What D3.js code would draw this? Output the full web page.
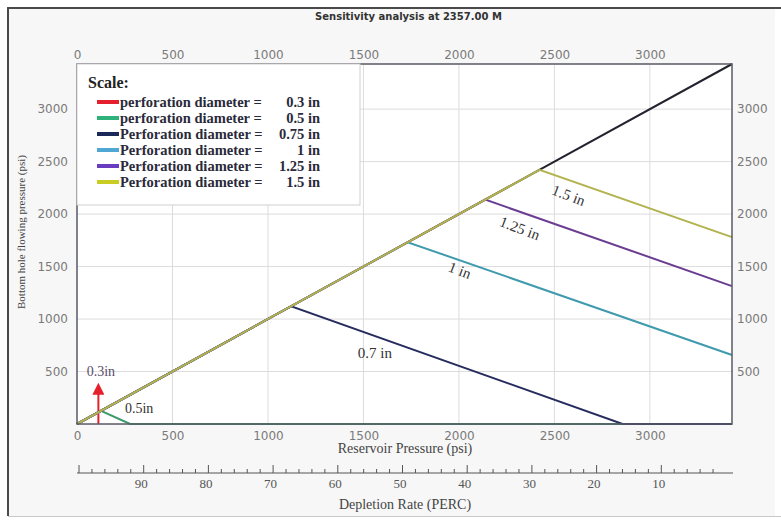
<!DOCTYPE html>
<html><head><meta charset="utf-8">
<script src="https://cdn.jsdelivr.net/npm/d3@7"></script>
<style>body{margin:0;background:#fff}svg{display:block}</style>
</head><body><svg id="c" width="781" height="521"></svg>
<script>
// ---- data ----
const title = "Sensitivity analysis at 2357.00 M";
const pressureTicks = [0, 500, 1000, 1500, 2000, 2500, 3000];
const bhpTicks = [500, 1000, 1500, 2000, 2500, 3000];
const depletionTicks = [90, 80, 70, 60, 50, 40, 30, 20, 10];
const legendNames = ["perforation diameter =", "perforation diameter =", "Perforation diameter =", "Perforation diameter =", "Perforation diameter =", "Perforation diameter ="];
const legendValues = ["0.3 in", "0.5 in", "0.75 in", "1 in", "1.25 in", "1.5 in"];
const legendColors = ["#e3202b", "#2fb27a", "#1b2858", "#4fa8d4", "#6a3cc0", "#c9cc22"];
const lineColors = ["#e3202b", "#3a9a6a", "#262c5e", "#3f9aae", "#6b3d92", "#b2b24e"];
// reference line: reservoir pressure = bottom hole pressure
const diagonal = [[0, 0], [3430, 3430]];
const s03 = [[112, 0], [112, 290]];
const s05 = [[0, 0], [126, 126], [278, 0], [3430, 0]];
const s075 = [[0, 0], [1122, 1122], [2857, 0], [3430, 0]];
const s10 = [[0, 0], [1732, 1732], [3430, 657]];
const s125 = [[0, 0], [2138, 2138], [3430, 1314]];
const s15 = [[0, 0], [2422, 2422], [3430, 1781]];
const seriesList = [s03, s05, s075, s10, s125, s15];
const lineLabels = ["0.3in", "0.5in", "0.7 in", "1 in", "1.25 in", "1.5 in"];
const labelAt = [[125, 455], [325, 105], [1560, 629], [1995, 1419], [2309, 1819], [2565, 2133]];
const labelAngle = [0, 0, 0, 21, 21, 21];

// ---- layout ----
const svg = d3.select("#c");
const L = 77, R = 732, T = 64, B = 424;
const x = d3.scaleLinear().domain([0, 3430]).range([L, R]);
const y = d3.scaleLinear().domain([0, 3430]).range([B, T]);
const dep = d3.scaleLinear().domain([100, 0]).range([L + 2, L + 2 + 647]);

// outer frame
svg.append("rect").attr("x", 8).attr("y", 8).attr("width", 767).attr("height", 508).attr("fill", "#f7f7f7");
svg.append("line").attr("x1", 8).attr("x2", 8).attr("y1", 7).attr("y2", 516).attr("stroke", "#4a4a4a").attr("stroke-width", 2);
svg.append("line").attr("x1", 7).attr("x2", 781).attr("y1", 8).attr("y2", 8).attr("stroke", "#4a4a4a").attr("stroke-width", 2);
svg.append("line").attr("x1", 8).attr("x2", 781).attr("y1", 516.5).attr("y2", 516.5).attr("stroke", "#c8c8c8").attr("stroke-width", 1);

svg.append("text").attr("x", (L + R) / 2 + 4).attr("y", 20).attr("text-anchor", "middle")
  .attr("font-family", "DejaVu Sans").attr("font-weight", "bold").attr("font-size", 10).attr("fill", "#333").text(title);

// plot bg
svg.append("rect").attr("x", L).attr("y", T).attr("width", R - L).attr("height", B - T).attr("fill", "#fff");

// grid
const g = svg.append("g");
g.selectAll(".vg").data(pressureTicks.filter(d => d > 0)).join("line")
  .attr("x1", d => x(d)).attr("x2", d => x(d)).attr("y1", T).attr("y2", B).attr("stroke", "#dcdcdc");
g.selectAll(".hg").data(bhpTicks).join("line")
  .attr("y1", d => y(d)).attr("y2", d => y(d)).attr("x1", L).attr("x2", R).attr("stroke", "#dcdcdc");

// axes (labels only)
const fmt = d3.format("d");
const tickFont = sel => sel.call(s => s.select(".domain").remove())
  .selectAll("text").attr("font-family", "DejaVu Sans").attr("font-size", 12).attr("fill", "#7a7a7a");
svg.append("g").attr("transform", `translate(0,${T - 5})`).call(d3.axisTop(x).tickValues(pressureTicks).tickFormat(fmt).tickSize(0).tickPadding(0)).call(tickFont);
svg.append("g").attr("transform", `translate(0,${B + 4})`).call(d3.axisBottom(x).tickValues(pressureTicks).tickFormat(fmt).tickSize(0).tickPadding(3)).call(tickFont);
svg.append("g").attr("transform", `translate(${L - 9},0)`).call(d3.axisLeft(y).tickValues(bhpTicks).tickFormat(fmt).tickSize(0).tickPadding(0)).call(tickFont);
svg.append("g").attr("transform", `translate(${R + 5},0)`).call(d3.axisRight(y).tickValues(bhpTicks).tickFormat(fmt).tickSize(0).tickPadding(0)).call(tickFont);

// series
const line = d3.line().x(d => x(d[0])).y(d => y(d[1]));
const defs = svg.append("defs");
defs.append("marker").attr("id", "arr").attr("viewBox", "0 0 10 10").attr("refX", 1).attr("refY", 5)
  .attr("markerWidth", 6).attr("markerHeight", 6).attr("orient", "auto").attr("markerUnits", "strokeWidth")
  .append("path").attr("d", "M0,0L10,5L0,10Z").attr("fill", lineColors[0]);

svg.append("path").attr("d", line(diagonal)).attr("fill", "none").attr("stroke", "#23232f").attr("stroke-width", 2);
seriesList.forEach((s, i) => {
  const p = svg.append("path").attr("d", line(s)).attr("fill", "none").attr("stroke", lineColors[i]).attr("stroke-width", 2);
  if (i === 0) p.attr("marker-end", "url(#arr)");
});

// plot border
svg.append("rect").attr("x", L).attr("y", T).attr("width", R - L).attr("height", B - T).attr("fill", "none").attr("stroke", "#5a5a66").attr("stroke-width", 1.5);

// line labels
svg.selectAll(".ll").data(lineLabels).join("text")
  .attr("transform", (d, i) => `translate(${x(labelAt[i][0])},${y(labelAt[i][1])}) rotate(${labelAngle[i]})`)
  .attr("text-anchor", "middle").attr("font-family", "Liberation Serif")
  .attr("font-size", (d, i) => i < 2 ? 14 : 15).attr("fill", (d, i) => i === 0 ? "#5a4e6a" : "#333").text(d => d);

// legend
const lg = svg.append("g");
lg.append("rect").attr("x", L).attr("y", T).attr("width", 283).attr("height", 141).attr("fill", "#fff").attr("stroke", "#cfcfcf");
lg.append("text").attr("x", 88).attr("y", 88).attr("font-family", "Liberation Serif").attr("font-weight", "bold").attr("font-size", 16).attr("fill", "#222").text("Scale:");
legendNames.forEach((n, i) => {
  const yy = 102 + i * 16;
  lg.append("line").attr("x1", 97).attr("x2", 119).attr("y1", yy).attr("y2", yy).attr("stroke", legendColors[i]).attr("stroke-width", 4);
  lg.append("text").attr("x", 120).attr("y", yy + 4.5).attr("font-family", "Liberation Serif").attr("font-weight", "bold").attr("font-size", 14.5).attr("fill", "#2a2a3a").text(n);
  lg.append("text").attr("x", 320).attr("y", yy + 4.5).attr("text-anchor", "end").attr("font-family", "Liberation Serif").attr("font-weight", "bold").attr("font-size", 14.5).attr("fill", "#2a2a3a").text(legendValues[i]);
});

// axis titles
svg.append("text").attr("x", 405).attr("y", 453).attr("text-anchor", "middle").attr("font-family", "Liberation Serif").attr("font-size", 14).attr("fill", "#444").text("Reservoir Pressure (psi)");
svg.append("text").attr("transform", "translate(25,232) rotate(-90)").attr("text-anchor", "middle").attr("font-family", "Liberation Serif").attr("font-size", 11).attr("fill", "#444").text("Bottom hole flowing pressure (psi)");

// depletion axis
const dy = 473;
svg.append("line").attr("x1", L).attr("x2", R + 1).attr("y1", dy).attr("y2", dy).attr("stroke", "#555");
const minor = d3.range(2, 100, 2).filter(v => v % 10 !== 0);
const major = d3.range(10, 101, 10);
svg.selectAll(".mt").data(minor).join("line").attr("x1", d => dep(d)).attr("x2", d => dep(d)).attr("y1", dy).attr("y2", dy - 4).attr("stroke", "#555");
svg.selectAll(".Mt").data(major).join("line").attr("x1", d => dep(d)).attr("x2", d => dep(d)).attr("y1", dy).attr("y2", dy - 8).attr("stroke", "#555");
svg.append("g").attr("transform", `translate(0,${dy + 6})`).call(d3.axisBottom(dep).tickValues(depletionTicks).tickSize(0).tickPadding(0))
  .call(s => s.select(".domain").remove())
  .selectAll("text").attr("font-family", "Liberation Serif").attr("font-size", 13).attr("fill", "#555").attr("dx", -3);
svg.append("text").attr("x", 405).attr("y", 509).attr("text-anchor", "middle").attr("font-family", "Liberation Serif").attr("font-size", 14).attr("fill", "#444").text("Depletion Rate (PERC)");
</script></body></html>
